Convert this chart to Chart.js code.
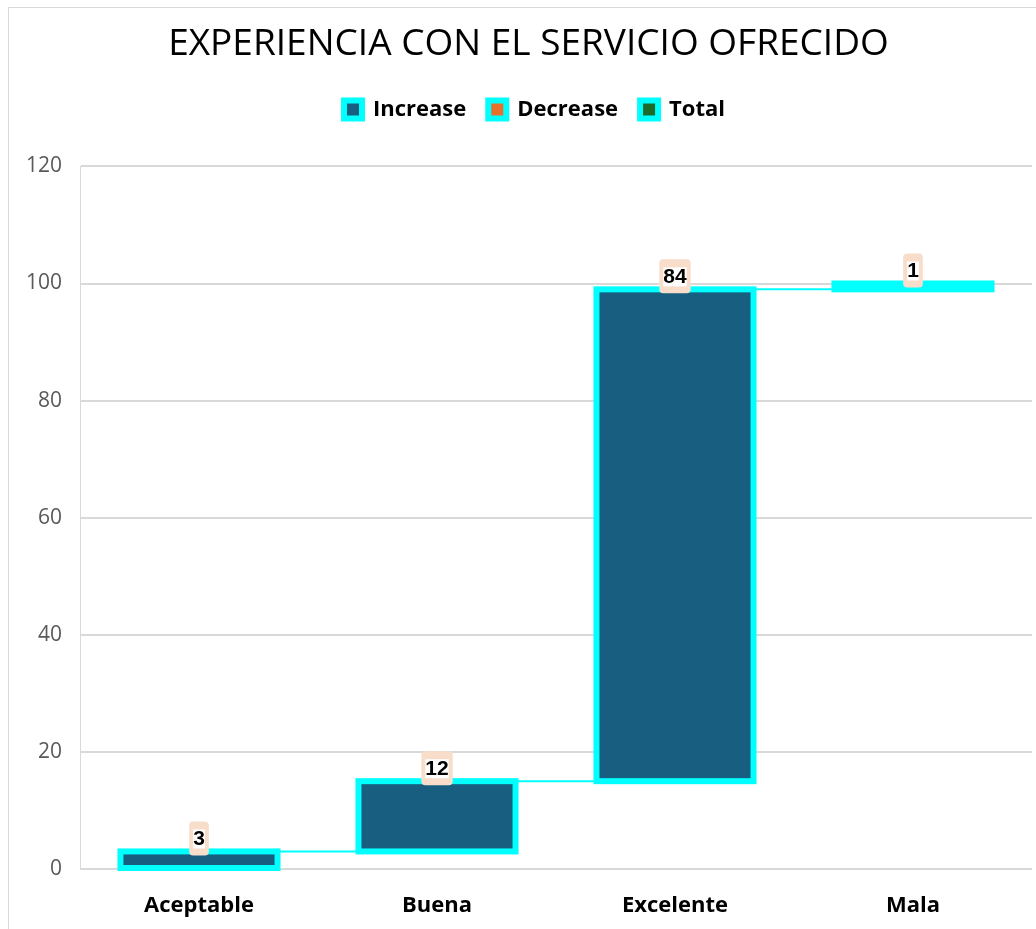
<!DOCTYPE html>
<html>
<head>
<meta charset="utf-8">
<title>Experiencia con el servicio ofrecido</title>
<script src="https://cdn.jsdelivr.net/npm/chart.js@4.4.1/dist/chart.umd.min.js"></script>
<style>
  html, body { margin: 0; padding: 0; background: #fff; overflow: hidden; }
  .frame {
    position: absolute; left: 8px; top: 7px;
    width: 1040px; height: 940px;
    border: 1px solid #d9d9d9;
  }
  .chart-box { position: absolute; left: 0; top: 0; width: 1023px; height: 921px; }
</style>
</head>
<body>
<div class="frame"><div class="chart-box"><canvas id="waterfallChart"></canvas></div></div>
<script>
// ==========================================
// DATA
// ==========================================

const categories = ["Aceptable", "Buena", "Excelente", "Mala"];
const changes = [3, 12, 84, 1];
const yMin = 0;
const yMax = 120;
const yStep = 20;

const legendLabels = ["Increase", "Decrease", "Total"];
const legendColors = ["#175E80", "#E8702A", "#1D6B2A"];

// waterfall: each bar floats from the running total to the new total
let runningTotal = 0;
const floatingBars = changes.map((v) => {
  const start = runningTotal;
  runningTotal += v;
  return [start, runningTotal];
});

// ==========================================
// STYLE
// ==========================================

const barColor = "#175E80";
const edgeColor = "#00FFFF";
const labelBoxColor = "#F8DDCB";
const fontFamily = "'Open Sans', 'DejaVu Sans', sans-serif";

// ==========================================
// PLUGINS
// ==========================================

// bar outline centred on the bar edge + connector lines
const waterfallDecor = {
  id: "waterfallDecor",
  beforeDatasetsDraw(chart) {
    const { ctx } = chart;
    const bars = chart.getDatasetMeta(0).data;
    ctx.save();
    ctx.strokeStyle = edgeColor;
    ctx.lineWidth = 2;
    for (let i = 0; i < bars.length - 1; i++) {
      const a = bars[i].getProps(["x", "y", "width"], true);
      const b = bars[i + 1].getProps(["x", "width"], true);
      ctx.beginPath();
      ctx.moveTo(a.x + a.width / 2, a.y);
      ctx.lineTo(b.x - b.width / 2, a.y);
      ctx.stroke();
    }
    ctx.restore();
  },
  afterDatasetsDraw(chart) {
    const { ctx } = chart;
    const bars = chart.getDatasetMeta(0).data;
    ctx.save();
    ctx.strokeStyle = edgeColor;
    ctx.lineWidth = 6;
    bars.forEach((bar) => {
      const p = bar.getProps(["x", "y", "base", "width"], true);
      ctx.strokeRect(p.x - p.width / 2, p.y, p.width, p.base - p.y);
    });

    // value labels
    ctx.font = "bold 21px 'Liberation Sans', Arial, sans-serif";
    ctx.textAlign = "center";
    ctx.textBaseline = "middle";
    bars.forEach((bar, i) => {
      const p = bar.getProps(["x", "y"], true);
      const text = String(changes[i]);
      const tw = ctx.measureText(text).width;
      const cy = p.y - 13;
      const w = tw + 8;
      const h = 34;
      ctx.fillStyle = labelBoxColor;
      ctx.beginPath();
      ctx.roundRect(p.x - w / 2, cy - h / 2, w, h, 4);
      ctx.fill();
      ctx.fillStyle = "#ffffff";
      ctx.fillRect(p.x - tw / 2, cy - 9, tw, 19);
      ctx.fillStyle = "#000000";
      ctx.fillText(text, p.x, cy + 1);
    });
    ctx.restore();
  },
};

// extra room between legend and plot, and nudge title/legend to the right
const headerTweaks = {
  id: "headerTweaks",
  beforeInit(chart) {
    const legend = chart.legend;
    const originalFit = legend.fit;
    legend.fit = function fit() {
      originalFit.bind(legend)();
      this.height += 36;
    };
    const shiftDraw = (box, dx) => {
      const originalDraw = box.draw;
      box.draw = function draw(...args) {
        chart.ctx.save();
        chart.ctx.translate(dx, 0);
        originalDraw.apply(box, args);
        chart.ctx.restore();
      };
    };
    shiftDraw(legend, 14);
    shiftDraw(chart.titleBlock, 8);
  },
};

// ==========================================
// CHART
// ==========================================

const ctx = document.getElementById("waterfallChart").getContext("2d");

new Chart(ctx, {
  type: "bar",
  data: {
    labels: categories,
    datasets: [
      {
        label: "Increase",
        data: floatingBars,
        backgroundColor: barColor,
        borderWidth: 0,
        categoryPercentage: 1,
        barPercentage: 0.66,
      },
    ],
  },
  options: {
    responsive: true,
    maintainAspectRatio: false,
    animation: false,
    layout: { padding: 0 },
    plugins: {
      tooltip: { enabled: false },
      title: {
        display: true,
        text: "EXPERIENCIA CON EL SERVICIO OFRECIDO",
        color: "#000000",
        font: { family: fontFamily, size: 37, weight: "normal" },
        padding: { top: 14, bottom: 10 },
      },
      legend: {
        display: true,
        onClick: null,
        labels: {
          boxWidth: 18,
          boxHeight: 18,
          padding: 22,
          color: "#000000",
          font: { family: fontFamily, size: 22, weight: "bold" },
          generateLabels: () =>
            legendLabels.map((text, i) => ({
              text,
              fillStyle: legendColors[i],
              strokeStyle: edgeColor,
              lineWidth: 6,
              fontColor: "#000000",
              hidden: false,
              datasetIndex: 0,
            })),
        },
      },
    },
    scales: {
      x: {
        grid: { display: false, drawTicks: false },
        border: { display: false },
        ticks: {
          color: "#000000",
          font: { family: fontFamily, size: 22, weight: "bold" },
          padding: 24,
          maxRotation: 0,
        },
        afterFit(scale) {
          scale.height = 60;
        },
      },
      y: {
        min: yMin,
        max: yMax,
        grid: { color: "#d9d9d9", lineWidth: 2, drawTicks: false },
        border: { display: true, color: "#d9d9d9", width: 1 },
        ticks: {
          stepSize: yStep,
          color: "#595959",
          font: { family: fontFamily, size: 21 },
          padding: 18,
        },
        afterFit(scale) {
          scale.width = 71;
        },
      },
    },
  },
  plugins: [waterfallDecor, headerTweaks],
});
</script>
</body>
</html>
